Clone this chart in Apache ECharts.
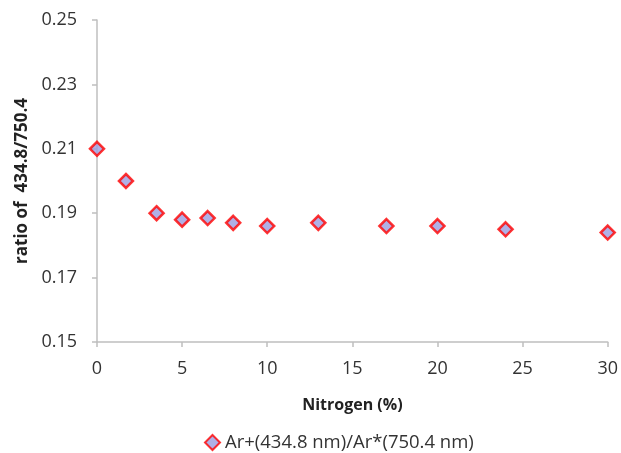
<!DOCTYPE html>
<html>
<head>
<meta charset="utf-8">
<script src="https://cdn.jsdelivr.net/npm/echarts@6/dist/echarts.min.js"></script>
<style>
html,body{margin:0;padding:0;background:#fff;}
#chart{width:621px;height:453px;}
</style>
</head>
<body>
<div id="chart"></div>
<script>
const nitrogen = [0, 1.7, 3.5, 5, 6.5, 8, 10, 13, 17, 20, 24, 30];
const ratio = [0.21, 0.20, 0.19, 0.188, 0.1885, 0.187, 0.186, 0.187, 0.186, 0.186, 0.185, 0.184];
const seriesName = 'Ar+(434.8 nm)/Ar*(750.4 nm)';
const xTitle = 'Nitrogen (%)';
const yTitle = 'ratio of  434.8/750.4';

const chart = echarts.init(document.getElementById('chart'), null, {renderer: 'canvas'});
const font = '"Open Sans", "Liberation Sans", sans-serif';
chart.setOption({
  animation: false,
  backgroundColor: '#fff',
  grid: {left: 97, top: 20, right: 11, bottom: 111, containLabel: false},
  legend: {
    top: 428,
    left: 199,
    itemWidth: 15, itemHeight: 15, itemGap: 5,
    data: [{name: seriesName, icon: 'diamond'}],
    textStyle: {fontFamily: font, fontSize: 18.5, color: '#333'}
  },
  xAxis: {
    type: 'value', min: 0, max: 30, interval: 5,
    name: xTitle, nameLocation: 'middle', nameGap: 55,
    nameTextStyle: {fontFamily: font, fontSize: 16, fontWeight: 'bold', color: '#222'},
    axisLine: {show: true, lineStyle: {color: '#bfbfbf', width: 1.5}},
    axisTick: {show: true, length: 5, lineStyle: {color: '#bfbfbf', width: 1.5}},
    axisLabel: {fontFamily: font, fontSize: 18, color: '#333', margin: 18},
    splitLine: {show: false}
  },
  yAxis: {
    type: 'value', min: 0.15, max: 0.25, interval: 0.02,
    name: yTitle, nameLocation: 'middle', nameGap: 64, nameRotate: 90,
    nameTextStyle: {fontFamily: font, fontSize: 17, fontWeight: 'bold', color: '#222'},
    axisLine: {show: true, lineStyle: {color: '#bfbfbf', width: 1.5}},
    axisTick: {show: true, length: 5, lineStyle: {color: '#bfbfbf', width: 1.5}},
    axisLabel: {fontFamily: font, fontSize: 18, color: '#333', margin: 20,
      formatter: v => v.toFixed(2)},
    splitLine: {show: false}
  },
  series: [{
    name: seriesName,
    type: 'scatter',
    symbol: 'diamond',
    symbolSize: 14,
    itemStyle: {color: '#9c9ce0', borderColor: '#ff0000', borderWidth: 2.5},
    data: nitrogen.map((x, i) => [x, ratio[i]])
  }]
});
</script>
</body>
</html>
